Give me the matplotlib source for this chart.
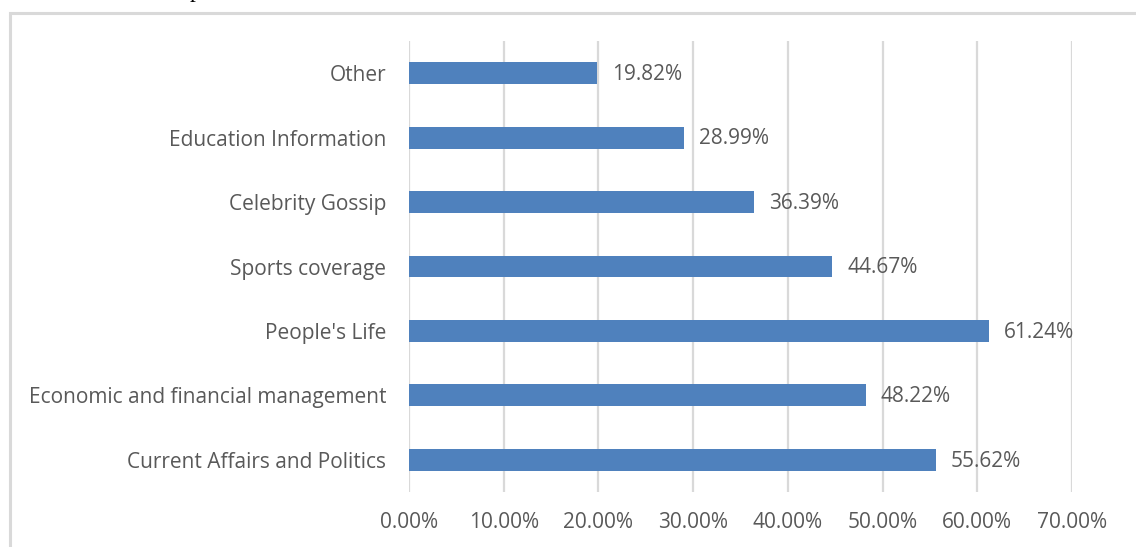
import matplotlib
matplotlib.use("Agg")
import matplotlib.pyplot as plt
from matplotlib.patches import Rectangle
from matplotlib.ticker import FuncFormatter, MultipleLocator

CATEGORIES = [
    "Current Affairs and Politics",
    "Economic and financial management",
    "People's Life",
    "Sports coverage",
    "Celebrity Gossip",
    "Education Information",
    "Other",
]
SHARES = [55.62, 48.22, 61.24, 44.67, 36.39, 28.99, 19.82]

BAR_COLOR = "#4f81bd"
TEXT_COLOR = "#595959"
GRID_COLOR = "#d9d9d9"
FONT_SIZE = 15

plt.rcParams["font.family"] = ["Open Sans", "DejaVu Sans"]

W, H = 1136, 547
fig = plt.figure(figsize=(W / 100, H / 100), dpi=100)

# chart frame (light gray border around the chart area)
fig.patches.append(Rectangle((9.5 / W, -0.05), 1.2, 1 - 12.5 / H + 0.05,
                             transform=fig.transFigure, fill=False,
                             edgecolor=GRID_COLOR, linewidth=2.2))

# descender of the caption line above the chart
fig.text(190 / W, 1 + 3.0 / H, "p", family="Liberation Serif", fontsize=17,
         va="baseline", ha="left", color="black")

left, right = 409 / W, 1072 / W
top, bottom = 1 - 41 / H, 1 - 492 / H
ax = fig.add_axes([left, bottom, right - left, top - bottom])

y = range(len(CATEGORIES))
ax.barh(y, SHARES, height=0.34, color=BAR_COLOR, zorder=3)
for yi, v in zip(y, SHARES):
    ax.text(v + 1.6, yi - 0.02, f"{v:.2f}%", va="center", ha="left",
            fontsize=FONT_SIZE, color=TEXT_COLOR)

ax.set_xlim(0, 70)
ax.set_ylim(-0.5, len(CATEGORIES) - 0.5)
ax.xaxis.set_major_locator(MultipleLocator(10))
ax.xaxis.set_major_formatter(FuncFormatter(lambda v, _: f"{v:.2f}%"))
ax.set_yticks(list(y))
ax.set_yticklabels(CATEGORIES)

ax.grid(axis="x", color=GRID_COLOR, linewidth=1.6, zorder=0)
for s in ax.spines.values():
    s.set_visible(False)
ax.tick_params(axis="y", length=0, pad=16.5, labelsize=FONT_SIZE,
               labelcolor=TEXT_COLOR)
ax.tick_params(axis="x", length=0, pad=14.5, labelsize=FONT_SIZE,
               labelcolor=TEXT_COLOR)

fig.savefig("out.png", dpi=100)
